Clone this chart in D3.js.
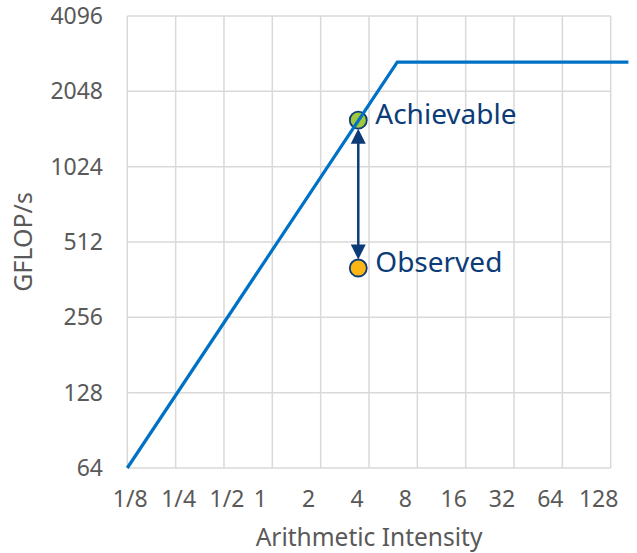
<!DOCTYPE html>
<html>
<head>
<meta charset="utf-8">
<script src="https://cdn.jsdelivr.net/npm/d3@7/dist/d3.min.js"></script>
<style>
  html, body { margin: 0; padding: 0; background: #fff; }
  svg { display: block; font-family: "Noto Sans", "Open Sans", sans-serif; }
</style>
</head>
<body>
<svg id="chart" width="637" height="553"></svg>
<script>
// Axis ticks (powers of two on both axes)
const xTicks = [1/8, 1/4, 1/2, 1, 2, 4, 8, 16, 32, 64, 128];
const xTickLabels = ["1/8", "1/4", "1/2", "1", "2", "4", "8", "16", "32", "64", "128"];
const yTicks = [64, 128, 256, 512, 1024, 2048, 4096];

// Roofline: memory-bound slope, then compute-bound ceiling
const roofAI = [0.125, 6, 165];
const roofGFLOPs = [64, 2680, 2680];

// Measured kernel vs. what the roof allows at the same intensity
const kernelAI = 3.43;
const achievableGFLOPs = 1570;
const observedGFLOPs = 403;

const svg = d3.select("#chart");
const plotLeft = 127.3, plotRight = 610.7, plotTop = 16, plotBottom = 468;

const x = d3.scaleLog().base(2).domain([1/8, 128]).range([plotLeft, plotRight]);
const y = d3.scaleLog().base(2).domain([64, 4096]).range([plotBottom, plotTop]);

const gridColor = "#d9d9d9";
const tickColor = "#595959";
const navy = "#0b3c78";

// Grid
svg.append("g").selectAll("line").data(xTicks).join("line")
  .attr("x1", d => x(d)).attr("x2", d => x(d))
  .attr("y1", plotTop).attr("y2", plotBottom)
  .attr("stroke", gridColor).attr("stroke-width", 1.5);
svg.append("g").selectAll("line").data(yTicks).join("line")
  .attr("x1", plotLeft).attr("x2", plotRight)
  .attr("y1", d => y(d)).attr("y2", d => y(d))
  .attr("stroke", gridColor).attr("stroke-width", 1.5);

// Y tick labels
svg.append("g").selectAll("text").data(yTicks).join("text")
  .attr("x", 103).attr("y", d => y(d))
  .attr("dy", "0.35em")
  .attr("text-anchor", "end")
  .attr("font-size", 23).attr("fill", tickColor)
  .text(d => d);

// X tick labels (fractions sit slightly right, whole numbers slightly left)
svg.append("g").selectAll("text").data(xTicks).join("text")
  .attr("x", d => x(d) + (d < 1 ? 3 : -12))
  .attr("y", 507)
  .attr("text-anchor", "middle")
  .attr("font-size", 23).attr("fill", tickColor)
  .text((d, i) => xTickLabels[i]);

// Axis titles
svg.append("text")
  .attr("x", (plotLeft + plotRight) / 2).attr("y", 546)
  .attr("text-anchor", "middle")
  .attr("font-size", 24.5).attr("fill", tickColor)
  .text("Arithmetic Intensity");
svg.append("text")
  .attr("transform", `translate(32, ${(plotTop + plotBottom) / 2}) rotate(-90)`)
  .attr("text-anchor", "middle")
  .attr("font-size", 25).attr("fill", tickColor)
  .text("GFLOP/s");

// Gap arrow between observed and achievable
const r = 8.5;
const ax = x(kernelAI);
const yTop = y(achievableGFLOPs) + r;
const yBot = y(observedGFLOPs) - r;
const headH = 15, headW = 7.5;
svg.append("line")
  .attr("x1", ax).attr("x2", ax)
  .attr("y1", yTop + headH - 2).attr("y2", yBot - headH + 2)
  .attr("stroke", navy).attr("stroke-width", 2.5);
svg.append("path")
  .attr("d", `M${ax},${yTop} L${ax - headW},${yTop + headH} L${ax + headW},${yTop + headH} Z`)
  .attr("fill", navy);
svg.append("path")
  .attr("d", `M${ax},${yBot} L${ax - headW},${yBot - headH} L${ax + headW},${yBot - headH} Z`)
  .attr("fill", navy);

// Points
svg.append("circle")
  .attr("cx", ax).attr("cy", y(achievableGFLOPs)).attr("r", r)
  .attr("fill", "#a2c83b").attr("stroke", navy).attr("stroke-width", 1.8);
svg.append("circle")
  .attr("cx", ax).attr("cy", y(observedGFLOPs)).attr("r", r)
  .attr("fill", "#fbb615").attr("stroke", navy).attr("stroke-width", 1.8);

// Roofline
const roof = roofAI.map((a, i) => [a, roofGFLOPs[i]]);
svg.append("path")
  .datum(roof)
  .attr("d", d3.line().x(d => x(d[0])).y(d => y(d[1])))
  .attr("fill", "none")
  .attr("stroke", "#0071c5").attr("stroke-width", 3.2)
  .attr("stroke-linejoin", "miter");

// Point labels
svg.append("text")
  .attr("x", ax + 17).attr("y", y(achievableGFLOPs) + 4)
  .attr("font-size", 28).attr("fill", navy)
  .text("Achievable");
svg.append("text")
  .attr("x", ax + 17).attr("y", y(observedGFLOPs) + 4)
  .attr("font-size", 28).attr("fill", navy)
  .text("Observed");
</script>
</body>
</html>
